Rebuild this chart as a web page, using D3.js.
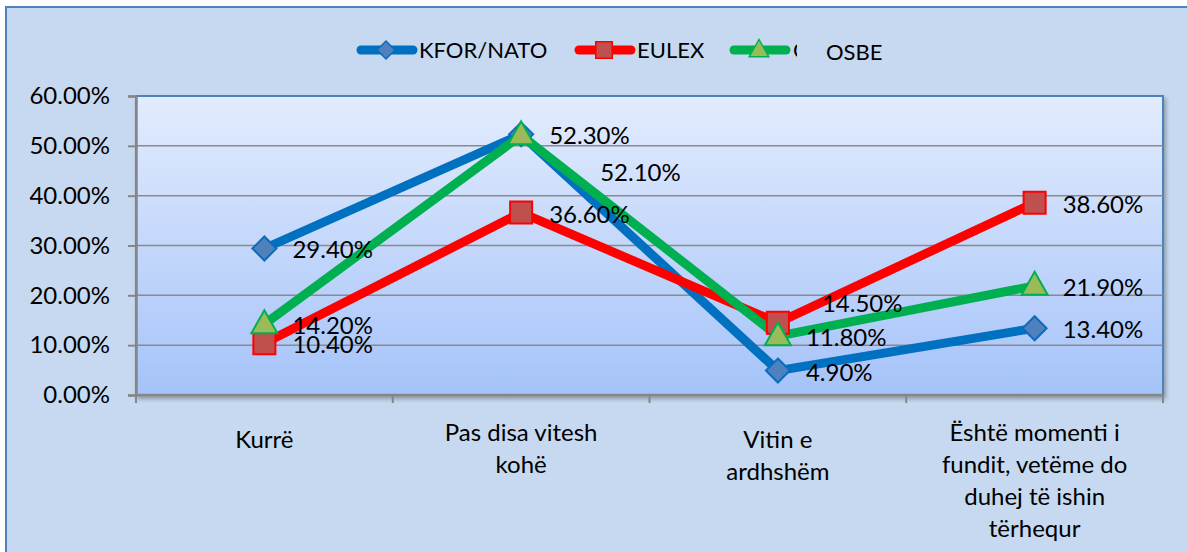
<!DOCTYPE html>
<html>
<head>
<meta charset="utf-8">
<script src="https://cdn.jsdelivr.net/npm/d3@7"></script>
<style>
  html, body { margin: 0; padding: 0; background: #ffffff; }
  svg { display: block; font-family: Lato, "Noto Sans", sans-serif; }
</style>
</head>
<body>
<svg id="chart" width="1187" height="552"></svg>
<script>
// categories (x axis)
const categories = [
  'Kurrë',
  'Pas disa vitesh kohë',
  'Vitin e ardhshëm',
  'Është momenti i fundit, vetëme do duhej të ishin tërhequr'
];
// wrapped lines for the category labels
const categoryLines = [
  ['Kurrë'],
  ['Pas disa vitesh', 'kohë'],
  ['Vitin e', 'ardhshëm'],
  ['Është momenti i', 'fundit, vetëme do', 'duhej të ishin', 'tërhequr']
];
const seriesNames = ['KFOR/NATO', 'EULEX', 'OSBE'];
const kforValues = [0.294, 0.523, 0.049, 0.134];
const eulexValues = [0.104, 0.366, 0.145, 0.386];
const osbeValues = [0.142, 0.521, 0.118, 0.219];
const yTicks = [0, 0.1, 0.2, 0.3, 0.4, 0.5, 0.6];

const series = [
  { name: seriesNames[0], values: kforValues, line: '#0070c0', fill: '#4f81bd', stroke: '#0a6cc0', marker: 'diamond' },
  { name: seriesNames[1], values: eulexValues, line: '#ff0000', fill: '#c0504d', stroke: '#ff0000', marker: 'square' },
  { name: seriesNames[2], values: osbeValues, line: '#00b050', fill: '#9bbb59', stroke: '#00b050', marker: 'triangle' }
];

// hand-moved data labels (series index, category index) -> offset
const labelNudge = {
  '2-1': [51, 36],
  '1-2': [16, -21]
};

const svg = d3.select('#chart');
const margin = { left: 136, right: 1163, top: 96, bottom: 395 };
const fontSize = 24;

// outer chart area
svg.append('rect')
  .attr('x', 6).attr('y', 7)
  .attr('width', 1190).attr('height', 560)
  .attr('fill', '#c6d9f0')
  .attr('stroke', '#4f81bd')
  .attr('stroke-width', 2);

const defs = svg.append('defs');
const grad = defs.append('linearGradient')
  .attr('id', 'plotGrad')
  .attr('x1', 0).attr('y1', 0).attr('x2', 0).attr('y2', 1);
grad.append('stop').attr('offset', '0%').attr('stop-color', '#e3ecfd');
grad.append('stop').attr('offset', '100%').attr('stop-color', '#a5c3f9');

const shadow = defs.append('filter').attr('id', 'shadow')
  .attr('x', '-5%').attr('y', '-5%').attr('width', '110%').attr('height', '115%');
shadow.append('feDropShadow')
  .attr('dx', 2).attr('dy', 3).attr('stdDeviation', 2)
  .attr('flood-color', '#000').attr('flood-opacity', 0.3);

const x = d3.scaleBand()
  .domain(categories)
  .range([margin.left, margin.right]);
const y = d3.scaleLinear()
  .domain([0, 0.6])
  .range([margin.bottom, margin.top]);

// plot area
svg.append('rect')
  .attr('x', margin.left).attr('y', margin.top)
  .attr('width', margin.right - margin.left)
  .attr('height', margin.bottom - margin.top)
  .attr('fill', 'url(#plotGrad)')
  .attr('stroke', '#4f81bd')
  .attr('stroke-width', 2)
  .attr('filter', 'url(#shadow)');

// gridlines
svg.append('g')
  .selectAll('line')
  .data(yTicks.slice(1, -1))
  .enter()
  .append('line')
  .attr('x1', margin.left).attr('x2', margin.right)
  .attr('y1', d => y(d)).attr('y2', d => y(d))
  .attr('stroke', '#8a8a8a')
  .attr('stroke-width', 1.5);

// y axis
const yAxis = svg.append('g')
  .attr('transform', 'translate(' + margin.left + ',0)')
  .call(d3.axisLeft(y).tickValues(yTicks).tickFormat(d3.format('.2%')).tickSize(8).tickPadding(18));
yAxis.select('.domain').attr('stroke', '#868686').attr('stroke-width', 2.5);
yAxis.selectAll('.tick line').attr('stroke', '#868686').attr('stroke-width', 2);
yAxis.selectAll('.tick text')
  .attr('font-size', fontSize)
  .attr('fill', '#000')
  .attr('font-family', 'Lato, "Noto Sans", sans-serif');

// x axis with ticks at band boundaries
const xAxis = svg.append('g')
  .attr('transform', 'translate(0,' + margin.bottom + ')');
xAxis.append('line')
  .attr('x1', margin.left).attr('x2', margin.right)
  .attr('stroke', '#868686').attr('stroke-width', 2.5);
const bounds = categories.map(c => x(c)).concat([margin.right]);
xAxis.selectAll('line.tk')
  .data(bounds)
  .enter()
  .append('line')
  .attr('class', 'tk')
  .attr('x1', d => d).attr('x2', d => d)
  .attr('y1', 0).attr('y2', 8)
  .attr('stroke', '#868686').attr('stroke-width', 2);

const catLabel = xAxis.selectAll('text.cat')
  .data(categories)
  .enter()
  .append('text')
  .attr('class', 'cat')
  .attr('text-anchor', 'middle')
  .attr('font-size', fontSize)
  .attr('fill', '#000');
catLabel.each(function(c, i) {
  const t = d3.select(this);
  const lines = categoryLines[i];
  const first = lines.length === 1 || i === 2 ? 53 : 46;
  lines.forEach(function(l, j) {
    t.append('tspan')
      .attr('x', x(c) + x.bandwidth() / 2)
      .attr('y', first + j * 32)
      .text(l);
  });
});

function markerPath(type) {
  if (type === 'diamond') return 'M0,-12L12,0L0,12L-12,0Z';
  if (type === 'square') return 'M-11,-11H11V11H-11Z';
  return 'M0,-14L13,9H-13Z';
}

const line = d3.line()
  .x((d, i) => x(categories[i]) + x.bandwidth() / 2)
  .y(d => y(d));

// series lines
series.forEach(function(s) {
  svg.append('path')
    .datum(s.values)
    .attr('d', line)
    .attr('fill', 'none')
    .attr('stroke', s.line)
    .attr('stroke-width', 9)
    .attr('stroke-linejoin', 'round');
});

// markers
series.forEach(function(s) {
  svg.append('g')
    .selectAll('path')
    .data(s.values)
    .enter()
    .append('path')
    .attr('transform', (d, i) => 'translate(' + (x(categories[i]) + x.bandwidth() / 2) + ',' + y(d) + ')')
    .attr('d', markerPath(s.marker))
    .attr('fill', s.fill)
    .attr('stroke', s.stroke)
    .attr('stroke-width', 2);
});

// data labels
series.forEach(function(s, si) {
  svg.append('g')
    .selectAll('text')
    .data(s.values)
    .enter()
    .append('text')
    .attr('x', function(d, i) {
      const n = labelNudge[si + '-' + i] || [0, 0];
      return x(categories[i]) + x.bandwidth() / 2 + 28 + n[0];
    })
    .attr('y', function(d, i) {
      const n = labelNudge[si + '-' + i] || [0, 0];
      return y(d) + 10 + n[1];
    })
    .attr('font-size', fontSize)
    .attr('fill', '#000')
    .text(d => d3.format('.2%')(d));
});

// legend
const legendX = [357, 575, 730];
const legend = svg.append('g');
series.forEach(function(s, i) {
  const g = legend.append('g').attr('transform', 'translate(' + legendX[i] + ',50)');
  g.append('line')
    .attr('x1', 4).attr('x2', 56)
    .attr('stroke', s.line).attr('stroke-width', 9)
    .attr('stroke-linecap', 'round');
  g.append('path')
    .attr('transform', 'translate(29,0) scale(0.75)')
    .attr('d', markerPath(s.marker))
    .attr('fill', s.fill)
    .attr('stroke', s.stroke)
    .attr('stroke-width', 2);
  if (i < 2) {
    g.append('text')
      .attr('x', 62).attr('y', 8)
      .attr('font-size', 22)
      .attr('fill', '#000')
      .text(s.name);
  } else {
    // label box was cut short in the original; only a sliver of the first letter shows
    defs.append('clipPath').attr('id', 'legClip')
      .append('rect').attr('x', 62).attr('y', -20).attr('width', 5).attr('height', 40);
    g.append('text')
      .attr('x', 63).attr('y', 8)
      .attr('font-size', 22)
      .attr('fill', '#000')
      .attr('clip-path', 'url(#legClip)')
      .text(s.name.charAt(0));
  }
});
// separately placed series name
svg.append('text')
  .attr('x', 826).attr('y', 60)
  .attr('font-size', 22)
  .attr('fill', '#000')
  .text(seriesNames[2]);
</script>
</body>
</html>
